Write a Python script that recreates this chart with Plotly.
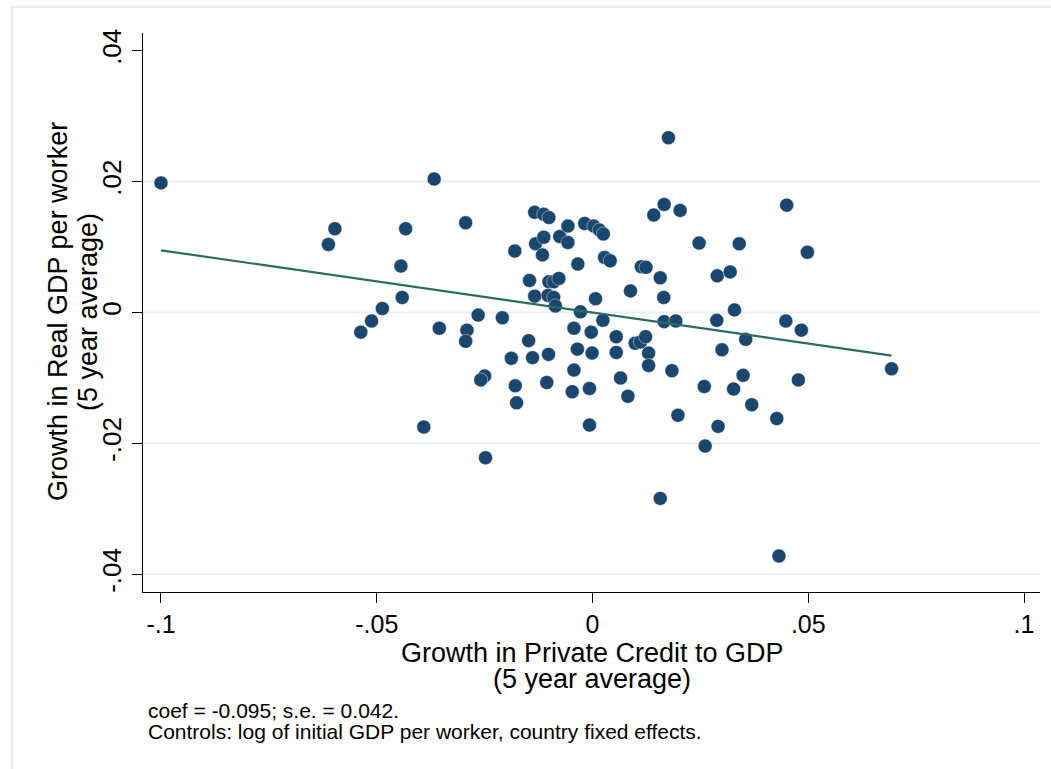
import plotly.graph_objects as go

# Data
credit_growth = [
    -0.1000, -0.0612, -0.0597, -0.0537, -0.0512, -0.0487, -0.0444, -0.0441, -0.0433, -0.0391,
    -0.0367, -0.0355, -0.0294, -0.0291, -0.0294, -0.0265, -0.0250, -0.0259, -0.0248, -0.0209,
    -0.0188, -0.0180, -0.0179, -0.0176, -0.0148, -0.0146, -0.0139, -0.0134, -0.0134, -0.0132,
    -0.0116, -0.0113, -0.0113, -0.0106, -0.0103, -0.0102, -0.0101, -0.0101, -0.0090, -0.0090,
    -0.0086, -0.0078, -0.0076, -0.0057, -0.0057, -0.0047, -0.0043, -0.0043, -0.0035, -0.0034,
    -0.0028, -0.0018, -0.0007, -0.0007, -0.0003, -0.0001, 0.0003, 0.0007, 0.0016, 0.0024,
    0.0025, 0.0028, 0.0041, 0.0055, 0.0055, 0.0065, 0.0082, 0.0088, 0.0099, 0.0111,
    0.0113, 0.0123, 0.0124, 0.0130, 0.0130, 0.0142, 0.0157, 0.0157, 0.0165, 0.0166,
    0.0166, 0.0176, 0.0184, 0.0193, 0.0198, 0.0203, 0.0247, 0.0259, 0.0261, 0.0288,
    0.0289, 0.0291, 0.0300, 0.0319, 0.0327, 0.0329, 0.0340, 0.0349, 0.0355, 0.0369,
    0.0427, 0.0432, 0.0448, 0.0450, 0.0477, 0.0484, 0.0498, 0.0693,
]
gdp_growth = [
    0.0198, 0.0104, 0.0128, -0.0030, -0.0013, 0.0006, 0.0071, 0.0023, 0.0128, -0.0175,
    0.0204, -0.0024, 0.0137, -0.0027, -0.0044, -0.0004, -0.0097, -0.0103, -0.0222, -0.0008,
    -0.0070, 0.0094, -0.0112, -0.0138, -0.0043, 0.0049, -0.0069, 0.0153, 0.0025, 0.0105,
    0.0088, 0.0150, 0.0115, -0.0107, 0.0026, -0.0064, 0.0145, 0.0047, 0.0047, 0.0023,
    0.0010, 0.0052, 0.0116, 0.0132, 0.0107, -0.0121, -0.0024, -0.0088, -0.0056, 0.0074,
    0.0001, 0.0136, -0.0116, -0.0172, -0.0030, -0.0062, 0.0132, 0.0021, 0.0126, -0.0012,
    0.0120, 0.0084, 0.0079, -0.0037, -0.0061, -0.0100, -0.0128, 0.0033, -0.0047, -0.0045,
    0.0070, -0.0037, 0.0069, -0.0062, -0.0081, 0.0149, 0.0053, -0.0284, 0.0023, 0.0165,
    -0.0014, 0.0267, -0.0089, -0.0013, -0.0157, 0.0156, 0.0106, -0.0113, -0.0204, -0.0012,
    0.0056, -0.0174, -0.0057, 0.0062, -0.0117, 0.0004, 0.0105, -0.0096, -0.0041, -0.0141,
    -0.0162, -0.0372, -0.0013, 0.0164, -0.0103, -0.0027, 0.0092, -0.0086,
]

fit_coef = -0.095
fit_intercept = 0.0

x_tick_vals = [-0.1, -0.05, 0, 0.05, 0.1]
x_tick_text = ["-.1", "-.05", "0", ".05", ".1"]
y_tick_vals = [-0.04, -0.02, 0, 0.02, 0.04]
y_tick_text = ["-.04", "-.02", "0", ".02", ".04"]
grid_vals = [0.02, 0, -0.02, -0.04]

x_title_lines = ["Growth in Private Credit to GDP", "(5 year average)"]
y_title_lines = ["Growth in Real GDP per worker", "(5 year average)"]
note_lines = ["coef = -0.095; s.e. = 0.042.",
              "Controls: log of initial GDP per worker, country fixed effects."]

FONT = "Liberation Sans, Arial, sans-serif"
NAVY = "#1a476f"
LINE = "#2a6d60"
GRID = "#e8eff2"

W, H = 1051, 769
L, R, T, B = 143, 11, 33, 177
pw, ph = W - L - R, H - T - B


def px_x(p):
    return (p - L) / pw


def px_y(p):
    return (H - B - p) / ph


fig = go.Figure()

fig.add_trace(go.Scatter(
    x=credit_growth, y=gdp_growth, mode="markers",
    marker=dict(color=NAVY, size=14, line=dict(color="rgba(255,255,255,0.7)", width=0.6)),
    showlegend=False,
))

# fitted line (drawn above the markers, as in the reference)
xmin, xmax = min(credit_growth), max(credit_growth)
fig.add_trace(go.Scatter(
    x=[xmin, xmax],
    y=[fit_intercept + fit_coef * xmin, fit_intercept + fit_coef * xmax],
    mode="lines", line=dict(color=LINE, width=2.2), hoverinfo="skip",
    showlegend=False,
))

shapes = []
for g in grid_vals:
    shapes.append(dict(type="line", xref="paper", yref="y", x0=0, x1=1, y0=g, y1=g,
                       line=dict(color=GRID, width=2), layer="below"))
# outer graph frame
shapes.append(dict(type="rect", xref="paper", yref="paper",
                   x0=px_x(12), x1=px_x(1080), y0=px_y(800), y1=px_y(7),
                   line=dict(color="#e6edf1", width=2), layer="below"))

annotations = []
# y title
for i, txt in enumerate(y_title_lines):
    annotations.append(dict(text=txt, xref="paper", yref="paper",
                            x=px_x([58, 88][i]), y=px_y(312), textangle=-90,
                            showarrow=False, xanchor="center", yanchor="middle",
                            font=dict(family=FONT, size=27, color="black")))
# x title
for i, txt in enumerate(x_title_lines):
    annotations.append(dict(text=txt, xref="paper", yref="paper",
                            x=px_x(592), y=px_y([653, 679][i]),
                            showarrow=False, xanchor="center", yanchor="middle",
                            font=dict(family=FONT, size=27, color="black")))
# notes
for i, txt in enumerate(note_lines):
    annotations.append(dict(text=txt, xref="paper", yref="paper",
                            x=px_x(146), y=px_y([710, 731][i]),
                            showarrow=False, xanchor="left", yanchor="middle",
                            font=dict(family=FONT, size=21, color="black")))

fig.update_layout(
    width=W, height=H,
    margin=dict(l=L, r=R, t=T, b=B, pad=0),
    paper_bgcolor="white", plot_bgcolor="white",
    font=dict(family=FONT, size=25, color="black"),
    shapes=shapes, annotations=annotations,
    xaxis=dict(range=[-0.10417, 0.1037], tickvals=x_tick_vals, ticktext=x_tick_text,
               showgrid=False, zeroline=False, showline=True, linecolor="black",
               linewidth=1.3, ticks="outside", ticklen=10, tickwidth=1.3,
               tickcolor="black", tickfont=dict(size=25)),
    yaxis=dict(range=[-0.0427, 0.0427], tickvals=y_tick_vals, ticktext=y_tick_text,
               showgrid=False, zeroline=False, showline=True, linecolor="black",
               linewidth=1.3, ticks="outside", ticklen=10, tickwidth=1.3,
               tickcolor="black", tickangle=-90, tickfont=dict(size=26)),
)

fig.write_html("out.html",
               config={"displayModeBar": False},
               post_script="document.body.style.margin='0';document.body.style.overflow='hidden';")
